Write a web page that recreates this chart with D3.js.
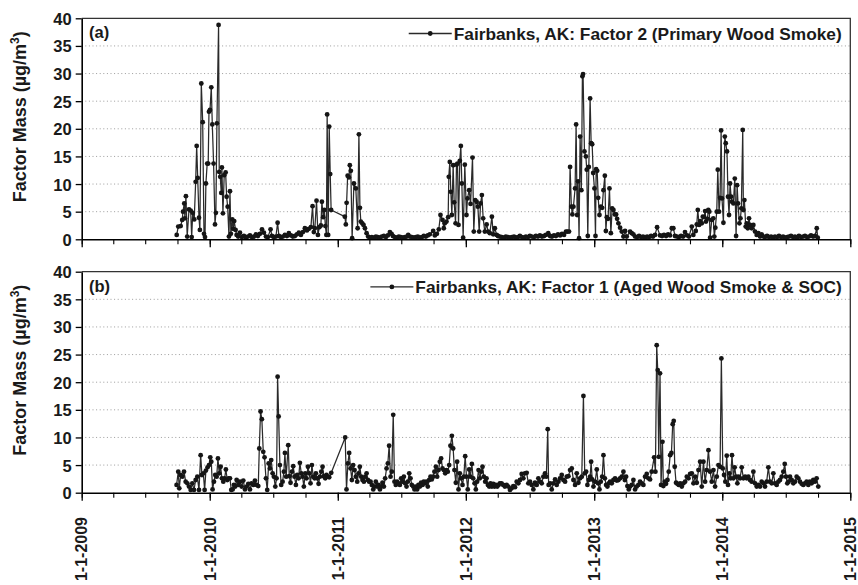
<!DOCTYPE html>
<html><head><meta charset="utf-8">
<script src="https://cdn.jsdelivr.net/npm/d3@7"></script>
<style>
body{margin:0;background:#fff}
svg{display:block;background:#fff}
text{font-family:"Liberation Sans",Arial,Helvetica,sans-serif;font-weight:bold;fill:#1a1a1a}
</style>
</head><body>
<svg id="c" width="858" height="585"></svg>
<script>
// ---- data (dates are years elapsed since 1 Jan 2009) ----
const f2Years = [
0.742,0.754,0.773,0.785,0.791,0.801,0.806,0.814,0.824,0.838,0.851,0.859,0.867,0.879,0.890,0.898,0.906,0.916,0.923,0.934,0.945,0.955,0.963,0.970,0.980,0.988,0.994,
1.002,1.012,1.020,1.030,1.041,1.048,1.056,1.069,1.074,1.082,1.090,1.095,1.103,1.113,1.124,1.132,1.140,1.150,1.158,1.165,1.176,1.183,1.191,1.202,1.210,1.222,
1.236,1.251,1.267,1.283,1.298,1.314,1.329,1.345,1.361,1.376,1.392,1.408,1.423,1.439,1.454,1.475,1.486,1.501,1.517,1.530,1.540,1.556,1.571,1.587,1.603,1.618,1.634,1.649,1.665,1.681,1.696,1.712,1.728,1.743,1.759,1.774,1.790,
1.803,1.813,1.821,1.834,1.845,1.856,1.868,1.876,1.886,1.895,1.903,1.911,1.917,1.925,1.933,1.941,1.948,
2.055,2.063,2.069,2.077,2.087,2.094,2.102,2.112,2.126,2.141,2.155,2.165,2.173,2.180,2.191,2.201,2.212,2.225,2.237,
2.251,2.266,2.282,2.298,2.313,2.329,2.344,2.360,2.376,2.391,2.407,2.420,2.430,2.446,2.461,2.477,2.493,2.508,2.524,2.539,2.550,2.563,2.579,2.594,2.610,2.625,2.641,2.657,2.672,2.688,2.703,2.719,2.745,2.758,2.774,2.789,
2.802,2.818,2.828,2.836,2.849,2.862,2.867,2.875,2.883,2.891,2.901,2.909,2.920,2.927,2.935,2.943,2.953,2.961,2.969,2.979,2.992,
3.005,3.013,3.026,3.037,3.052,3.062,3.073,3.084,3.094,3.104,3.115,3.125,3.135,3.148,3.162,3.174,3.187,3.203,3.213,3.226,3.240,3.250,
3.265,3.281,3.297,3.312,3.328,3.343,3.359,3.375,3.390,3.406,3.421,3.437,3.453,3.468,3.484,3.499,3.515,3.531,3.546,3.562,3.577,3.593,3.609,3.624,3.642,3.656,3.671,3.687,3.702,3.718,3.734,3.749,3.765,3.780,
3.791,3.804,3.812,3.822,3.830,3.838,3.851,3.859,3.867,3.874,3.882,3.890,3.900,3.908,3.913,3.924,3.935,3.942,3.950,3.958,3.968,3.976,3.984,3.992,
4.002,4.010,4.015,4.023,4.031,4.041,4.052,4.062,4.072,4.083,4.091,4.098,4.108,4.119,4.130,4.140,4.150,4.161,4.171,4.179,4.189,4.202,4.215,4.228,4.241,4.254,
4.280,4.293,4.306,4.319,4.335,4.350,4.366,4.381,4.397,4.413,4.428,4.444,4.459,4.475,4.491,4.514,4.530,4.545,4.561,4.577,4.592,4.606,4.618,4.631,4.647,4.662,4.678,4.694,4.709,4.725,4.740,4.762,4.774,
4.793,4.801,4.809,4.819,4.827,4.840,4.848,4.858,4.866,4.873,4.884,4.891,4.899,4.905,4.918,4.930,4.938,4.946,4.957,4.965,4.975,4.983,4.991,4.998,
5.009,5.020,5.027,5.037,5.045,5.053,5.061,5.069,5.076,5.087,5.098,5.108,5.116,5.123,5.134,5.142,5.149,5.160,5.165,5.173,5.183,5.191,5.199,5.209,5.217,5.230,5.243,5.256,5.269,5.282,5.295,5.308,5.321,
5.334,5.350,5.365,5.381,5.396,5.412,5.428,5.443,5.459,5.475,5.490,5.506,5.521,5.537,5.553,5.568,5.584,5.599,5.615,5.631,5.646,5.662,5.677,5.693,5.709,5.724,5.738,5.746
];
const f2Values = [
0.8,2.3,2.4,3.5,5.0,6.5,3.8,7.8,0.5,5.4,5.2,0.4,4.8,3.6,10.4,16.9,11.1,3.9,1.7,28.2,21.2,1.0,0.4,10.1,13.7,13.7,23.1,
23.4,27.5,20.8,13.7,2.7,4.8,21.0,38.8,12.2,11.3,8.4,13.0,4.7,11.6,12.1,7.7,5.9,0.5,8.7,1.0,3.6,1.9,3.3,1.7,0.8,0.5,
1.2,0.4,0.6,0.3,0.5,0.7,0.4,0.5,0.9,0.6,1.0,1.8,1.2,0.5,0.4,1.8,0.6,0.4,0.5,3.0,0.6,0.4,0.5,0.8,0.6,1.1,0.7,0.5,0.6,0.9,1.2,0.8,1.3,2.0,1.6,1.9,2.2,
6.0,1.3,2.0,7.0,0.8,2.2,2.5,6.8,4.0,5.3,2.4,0.8,22.6,0.8,20.4,11.8,5.3,
4.1,2.7,6.6,11.5,11.2,13.4,12.4,0.2,10.1,9.2,2.0,19.0,5.7,3.2,2.9,2.6,2.0,1.1,0.5,
0.3,0.4,0.3,0.5,0.4,0.3,0.5,0.6,0.4,0.7,1.3,1.0,0.6,0.4,0.3,0.5,0.4,0.3,0.4,0.5,0.8,0.5,0.4,0.3,0.4,0.5,0.3,0.4,0.6,0.5,0.7,0.9,1.5,0.7,1.0,1.8,
4.4,3.5,2.0,2.9,3.2,4.0,11.3,14.0,8.6,4.4,13.4,6.7,2.9,13.5,13.7,2.6,14.2,16.9,10.1,0.3,13.5,
4.4,7.4,8.9,6.4,14.8,1.4,7.1,6.8,5.9,1.4,6.5,8.0,3.8,1.4,2.7,1.4,1.1,4.1,0.9,2.0,0.8,0.6,
0.5,0.4,0.3,0.5,0.4,0.3,0.4,0.5,0.3,0.4,0.6,0.4,0.3,0.5,0.4,0.6,0.5,0.4,0.6,0.5,0.7,0.5,0.6,0.8,1.1,0.6,0.5,0.7,0.6,0.9,0.7,1.0,0.8,1.4,
1.4,1.4,13.1,5.9,4.5,5.9,9.2,20.8,4.4,10.5,0.2,18.6,8.9,29.5,29.9,15.9,15.0,12.6,0.6,13.1,25.5,17.4,17.2,12.0,
9.2,0.6,12.7,12.4,7.5,4.4,5.9,5.7,8.9,11.5,1.5,4.0,3.7,9.2,1.1,5.6,5.3,4.5,4.5,3.7,2.9,2.1,1.4,0.5,1.5,0.5,
1.4,1.1,0.9,0.5,0.4,0.6,0.4,0.5,0.3,0.5,0.4,0.6,0.5,0.8,2.2,0.7,0.6,0.8,0.6,0.9,0.7,2.0,2.0,0.6,0.5,0.4,0.6,0.5,1.3,0.7,0.5,2.3,0.8,
1.5,2.7,5.3,2.6,3.3,2.9,4.1,4.0,5.1,3.2,3.7,5.3,5.0,0.3,3.5,3.8,0.5,2.1,5.0,12.6,5.0,7.5,19.7,7.4,
3.0,18.6,17.4,15.9,7.7,4.4,10.1,7.7,6.8,6.5,11.0,0.6,9.8,6.5,2.9,3.8,5.6,19.8,5.3,7.1,2.3,2.9,2.0,3.8,2.6,2.0,2.6,1.4,0.8,1.1,0.5,0.9,0.5,
0.4,0.6,0.4,0.5,0.3,0.5,0.4,0.6,0.4,0.5,0.3,0.4,0.5,0.6,0.4,0.5,0.3,0.6,0.4,0.5,0.6,0.4,0.5,0.7,0.5,0.6,2.0,0.3
];
const f1Years = [
0.741,0.754,0.762,0.773,0.786,0.799,0.812,0.825,0.838,0.851,0.864,0.877,0.890,0.903,0.916,0.929,0.939,0.950,0.960,0.970,0.983,0.994,
1.004,1.012,1.022,1.033,1.043,1.054,1.064,1.074,1.085,1.095,1.106,1.116,1.126,1.137,1.147,1.158,1.168,1.179,1.189,1.199,
1.210,1.223,1.236,1.249,1.262,1.275,1.288,1.301,1.314,1.327,1.340,1.353,1.366,1.379,
1.387,1.397,1.407,1.418,1.428,1.439,1.449,1.460,1.470,1.480,1.491,1.501,1.512,1.522,1.530,1.538,1.548,1.558,1.569,1.579,1.587,1.597,1.613,1.621,1.631,
1.642,1.652,1.662,1.673,1.683,1.694,1.704,1.715,1.725,1.735,1.746,1.756,1.767,1.777,1.787,1.798,1.808,1.819,1.829,1.839,1.850,1.860,1.871,1.881,1.891,1.902,1.912,1.923,1.933,1.949,
2.058,2.068,2.079,2.089,2.100,2.110,2.120,2.131,2.141,2.152,2.162,2.172,2.183,2.193,2.204,2.214,2.225,2.235,2.245,2.256,
2.266,2.277,2.287,2.297,2.308,2.318,2.329,2.339,2.349,2.360,2.370,2.381,2.391,2.401,2.412,2.422,2.433,2.443,2.453,2.464,
2.474,2.485,2.495,2.506,2.516,2.526,2.537,2.547,2.558,2.568,2.578,2.589,2.599,2.610,2.620,2.630,2.641,2.651,2.662,2.672,
2.682,2.693,2.703,2.714,2.724,2.734,2.745,2.755,2.766,2.776,2.787,2.797,2.807,2.818,2.828,2.839,2.849,2.859,2.870,2.880,
2.891,2.901,2.911,2.922,2.932,2.943,2.953,2.963,2.974,2.984,2.995,
3.005,3.015,3.026,3.036,3.047,3.057,3.068,3.078,3.088,3.099,3.109,3.120,3.130,3.140,3.151,3.161,3.172,3.182,3.192,3.203,
3.214,3.224,3.234,3.245,3.255,3.265,3.278,3.291,3.304,3.318,3.331,3.344,3.357,3.370,3.383,3.396,3.409,3.422,3.435,3.448,
3.461,3.474,3.487,3.500,3.513,3.526,3.539,3.552,3.565,3.578,3.591,3.604,3.617,3.627,3.638,3.645,3.656,3.669,3.682,3.695,
3.708,3.721,3.734,3.747,3.760,3.773,3.786,3.799,3.812,3.825,3.838,3.851,3.864,3.877,3.890,3.903,3.916,3.926,3.937,3.947,
3.958,3.968,3.976,3.984,3.994,
4.007,4.020,4.030,4.041,4.051,4.062,4.072,4.083,4.093,4.103,4.114,4.124,4.137,4.150,4.163,4.176,4.189,4.202,4.215,4.228,
4.239,4.249,4.259,4.270,4.280,4.293,4.306,4.319,4.332,4.345,4.358,4.371,4.384,4.397,4.410,4.423,4.436,4.449,4.468,4.478,
4.488,4.496,4.504,4.514,4.522,4.533,4.540,4.551,4.561,4.572,4.582,4.593,4.603,4.613,4.621,4.629,4.639,4.650,4.660,4.671,
4.684,4.697,4.710,4.723,4.736,4.749,4.762,4.775,4.788,4.801,4.814,4.827,4.840,4.853,4.866,4.879,4.892,4.905,4.918,4.931,
4.944,4.957,4.970,4.983,4.993,
5.004,5.014,5.024,5.035,5.045,5.056,5.066,5.076,5.087,5.097,5.108,5.118,5.128,5.139,5.152,5.165,5.178,5.191,5.204,5.217,
5.230,5.243,5.256,5.269,5.282,5.295,5.308,5.321,5.334,5.347,5.360,5.373,5.386,5.399,5.412,5.425,5.438,5.451,5.464,5.477,
5.488,5.498,5.508,5.518,5.529,5.542,5.555,5.568,5.581,5.594,5.607,5.620,5.633,5.646,5.659,5.672,5.685,5.698,5.711,5.724,
5.737,5.750
];
const f1Values = [
1.4,3.8,0.8,3.2,2.9,3.8,2.0,1.7,1.1,0.5,1.7,0.5,2.3,2.9,0.5,6.8,3.2,3.5,0.5,4.0,4.6,5.0,
6.4,5.6,0.6,2.0,3.2,2.9,6.2,3.5,4.7,2.6,2.0,2.6,4.2,2.3,2.6,2.6,0.5,0.6,1.4,1.1,
2.3,1.4,2.0,1.1,2.2,0.6,1.1,1.6,0.6,1.7,1.4,2.2,1.4,1.2,
8.0,14.7,13.3,7.4,6.4,2.6,0.5,5.3,4.4,5.9,3.5,2.9,1.1,2.6,21.0,13.8,5.0,1.4,2.0,3.8,7.2,2.9,8.6,3.0,1.8,
3.8,4.8,2.9,1.4,3.2,2.6,5.4,3.5,2.9,1.1,3.5,2.6,4.7,3.5,1.7,5.0,2.9,2.6,3.5,2.6,1.6,2.9,3.8,4.7,3.0,2.6,3.2,2.9,2.8,3.6,
10.0,0.6,5.3,7.2,4.4,2.3,5.0,4.1,2.9,2.0,3.5,4.7,2.9,2.3,2.0,2.9,3.5,2.3,2.0,2.0,
1.4,0.6,1.1,2.0,1.1,1.4,0.6,1.1,1.8,1.1,2.6,4.4,5.3,8.5,2.9,3.8,14.1,2.0,1.4,2.0,
1.7,1.4,2.6,2.0,2.9,1.7,1.1,2.0,3.5,2.6,1.4,1.1,0.6,1.1,0.6,1.4,1.1,1.8,1.4,2.0,
1.7,2.0,1.1,2.3,2.9,2.4,2.9,3.8,4.7,2.9,4.1,5.6,6.2,4.4,4.1,3.5,4.1,3.8,5.0,8.5,
10.3,8.0,4.1,1.8,5.6,0.6,3.5,2.6,1.4,2.9,6.6,
2.9,0.6,4.2,2.9,5.2,2.6,1.7,0.6,2.0,4.1,2.6,3.8,4.7,2.9,2.0,2.6,1.4,1.1,1.7,1.1,
1.6,1.1,1.4,1.1,1.4,1.7,1.7,1.4,1.1,1.4,1.1,0.5,0.8,1.2,1.0,2.0,1.7,2.3,3.4,2.6,
3.5,3.6,1.7,2.0,1.4,0.6,1.8,1.4,2.6,2.0,1.7,2.9,3.5,2.9,11.5,1.4,1.7,0.6,1.7,2.4,
1.4,2.0,2.6,3.2,2.3,2.0,2.9,3.0,4.1,4.4,2.3,1.4,3.5,1.8,2.6,2.9,17.5,3.5,3.8,1.4,
2.3,2.9,5.6,2.4,1.1,
2.0,4.2,1.7,0.6,2.0,2.9,6.8,2.6,1.4,1.1,1.7,2.0,1.7,2.3,2.6,2.2,2.3,2.6,2.9,3.8,
2.3,2.9,1.2,0.6,1.1,1.4,2.3,0.6,1.1,1.4,2.0,1.7,1.4,2.9,3.4,2.6,2.4,3.8,6.4,3.8,
26.7,22.2,6.5,21.6,1.4,9.2,1.2,2.0,1.6,2.3,3.8,6.8,7.2,12.4,13.0,4.7,1.8,1.6,1.4,1.7,
1.1,1.7,2.0,2.9,2.6,3.4,3.5,1.7,2.9,1.8,4.1,5.6,1.1,5.6,2.0,4.1,7.7,3.8,2.0,4.1,
1.1,2.9,5.0,4.7,24.3,
4.4,3.2,2.0,6.7,1.4,3.5,2.6,6.8,2.6,4.6,2.9,1.7,2.9,2.6,4.6,2.6,2.9,2.6,2.9,2.3,
2.0,3.8,1.7,1.1,1.4,1.1,2.0,1.7,1.1,2.0,4.6,2.0,1.7,3.5,1.7,1.4,2.0,2.3,2.9,3.8,
5.2,2.9,1.7,2.0,2.9,2.3,1.7,2.0,2.9,2.6,2.0,1.6,1.4,1.7,2.0,1.4,2.0,1.7,2.3,2.0,
2.6,1.1
];
const yTicks = [0,5,10,15,20,25,30,35,40];
const xTickYears = [2009,2010,2011,2012,2013,2014,2015];
const xTickLabels = ["1-1-2009","1-1-2010","1-1-2011","1-1-2012","1-1-2013","1-1-2014","1-1-2015"];
const panelLabels = ["(a)","(b)"];
const legendLabels = ["Fairbanks, AK: Factor 2 (Primary Wood Smoke)","Fairbanks, AK: Factor 1 (Aged Wood Smoke & SOC)"];
const yTitleParts = ["Factor Mass (\u00b5g/m","3",")"];

// ---- drawing ----
function toDate(off){
  const t = 2009 + off, yr = Math.floor(t);
  const a = Date.UTC(yr,0,1), b = Date.UTC(yr+1,0,1);
  return new Date(a + (t-yr)*(b-a));
}
const svg = d3.select("#c");
const X0 = 81.7, X1 = 850.3;
const x = d3.scaleUtc().domain([new Date(Date.UTC(2009,0,1)), new Date(Date.UTC(2015,0,1))]).range([X0, X1]);

const panels = [
  {top:18.3, bottom:239.3, years:f2Years, values:f2Values, tag:panelLabels[0], legend:legendLabels[0], labels:false},
  {top:271.7, bottom:492.7, years:f1Years, values:f1Values, tag:panelLabels[1], legend:legendLabels[1], labels:true}
];

panels.forEach(p => {
  const y = d3.scaleLinear().domain([0,40]).range([p.bottom, p.top]);
  const g = svg.append("g");

  g.selectAll("line.grid").data(yTicks.filter(v => v > 0 && v < 40)).join("line")
    .attr("class","grid")
    .attr("x1", X0).attr("x2", X1)
    .attr("y1", d => y(d)).attr("y2", d => y(d))
    .attr("stroke","#9c9c9c").attr("stroke-width",1).attr("stroke-dasharray","1,2.6");

  g.append("path").attr("d", `M${X0},${y(40)}H${X1}V${y(0)}`)
    .attr("fill","none").attr("stroke","#333").attr("stroke-width",1.3);

  const pts = p.years.map((d,i) => ({date: toDate(d), v: p.values[i]}));
  g.append("path").datum(pts)
    .attr("d", d3.line().x(d => x(d.date)).y(d => y(d.v)))
    .attr("fill","none").attr("stroke","#2a2a2a").attr("stroke-width",1.25).attr("stroke-linejoin","round");
  g.selectAll("circle.pt").data(pts).join("circle").attr("class","pt")
    .attr("cx", d => x(d.date)).attr("cy", d => y(d.v)).attr("r",2.4).attr("fill","#151515");

  // y axis
  const ya = g.append("g").attr("transform",`translate(${X0},0)`)
    .call(d3.axisLeft(y).tickValues(yTicks).tickSize(6).tickSizeOuter(0).tickPadding(4));
  ya.attr("font-size",16.5);
  ya.select(".domain").attr("stroke","#000").attr("stroke-width",1.6);
  ya.selectAll(".tick line").attr("stroke","#000").attr("stroke-width",1.3);
  ya.selectAll(".tick text").attr("fill","#1a1a1a").attr("dy","0.36em");

  // x axis: quarterly minor ticks and yearly major ticks
  const quarters = d3.utcMonth.every(3).range(x.domain()[0], new Date(Date.UTC(2015,0,2)));
  const xm = g.append("g").attr("transform",`translate(0,${y(0)})`)
    .call(d3.axisBottom(x).tickValues(quarters).tickSize(5).tickSizeOuter(0).tickFormat(""));
  xm.select(".domain").attr("stroke","#000").attr("stroke-width",1.6);
  xm.selectAll(".tick line").attr("stroke","#000").attr("stroke-width",1.1);
  const yearDates = xTickYears.map(yr => new Date(Date.UTC(yr,0,1)));
  const xM = g.append("g").attr("transform",`translate(0,${y(0)})`)
    .call(d3.axisBottom(x).tickValues(yearDates).tickSize(8).tickSizeOuter(0).tickFormat(""));
  xM.select(".domain").remove();
  xM.selectAll(".tick line").attr("stroke","#000").attr("stroke-width",1.3);

  if (p.labels) {
    g.selectAll("text.xl").data(yearDates).join("text").attr("class","xl")
      .attr("transform", d => `translate(${x(d)},517) rotate(-90)`)
      .attr("text-anchor","end").attr("dy","0.36em").attr("font-size",16)
      .text((d,i) => xTickLabels[i]);
  }

  // y title
  const yt = g.append("text")
    .attr("transform", `translate(26,${(p.top+p.bottom)/2 - 12}) rotate(-90)`)
    .attr("text-anchor","middle").attr("font-size",18);
  yt.append("tspan").text(yTitleParts[0]);
  yt.append("tspan").text(yTitleParts[1]).attr("font-size",12).attr("dy",-7);
  yt.append("tspan").text(yTitleParts[2]).attr("dy",7);

  // panel tag
  g.append("text").attr("x",89).attr("y",p.top+20).attr("font-size",16.5).text(p.tag);

  // legend
  const lt = g.append("text").attr("x",841.7).attr("y",p.top+21.7)
    .attr("text-anchor","end").attr("font-size",17.3).text(p.legend);
  const w = lt.node().getComputedTextLength();
  const ls = 841.7 - w;
  const ly = p.top + 15.2;
  g.append("line").attr("x1", ls-45).attr("x2", ls-2).attr("y1", ly).attr("y2", ly)
    .attr("stroke","#2a2a2a").attr("stroke-width",1.3);
  g.append("circle").attr("cx", ls-23.5).attr("cy", ly).attr("r",2.4).attr("fill","#151515");
});
</script>
</body></html>
